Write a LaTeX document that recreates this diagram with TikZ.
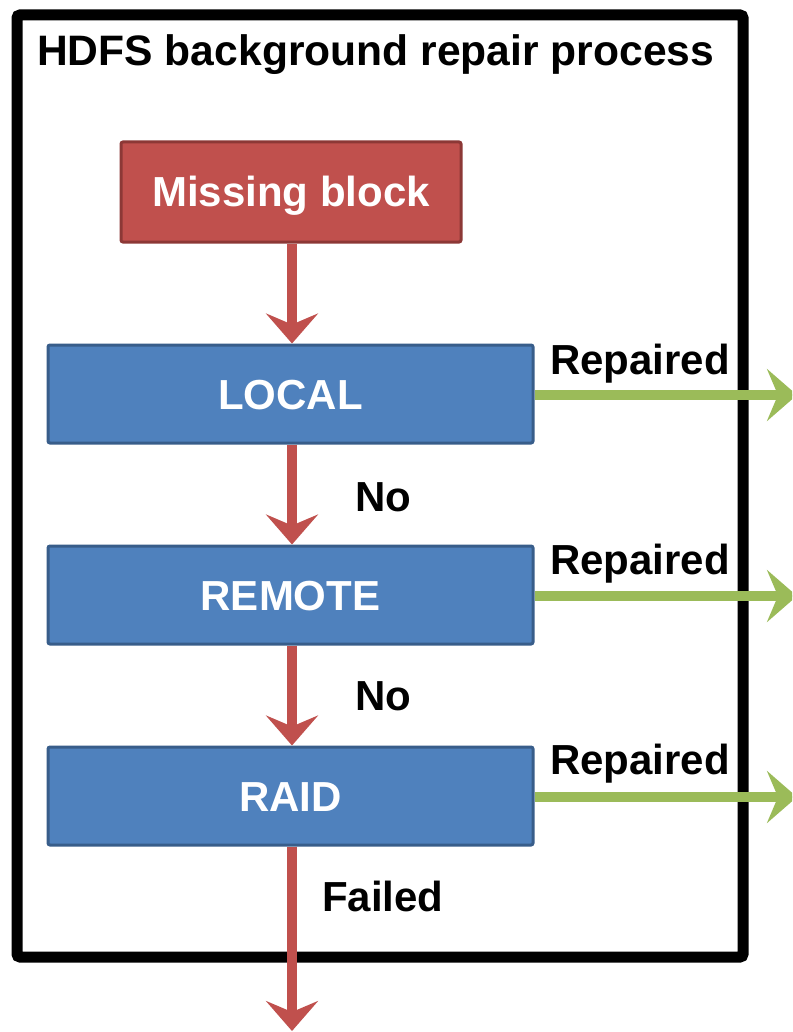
\documentclass[tikz,border=0pt]{standalone}
\usepackage{fontspec}
\setmainfont{Liberation Sans}
\usetikzlibrary{arrows.meta}
\definecolor{redfill}{HTML}{C0504D}
\definecolor{redborder}{HTML}{8C3836}
\definecolor{bluefill}{HTML}{4F81BD}
\definecolor{blueborder}{HTML}{385D8A}
\definecolor{greenarrow}{HTML}{9BBB59}
\tikzset{
  txt/.style={font=\fontsize{42}{50}\selectfont\bfseries, inner sep=0pt},
  boxtxt/.style={txt, text height=30pt, text depth=0pt, text=white},
  redbox/.style={boxtxt, draw=redborder, fill=redfill, line width=3pt, rounded corners=2pt, minimum width=340pt, minimum height=100pt},
  bluebox/.style={boxtxt, draw=blueborder, fill=bluefill, line width=3pt, rounded corners=2pt, minimum width=485pt, minimum height=98pt},
  redarrow/.style={draw=redfill, line width=10pt, -{Stealth[length=30pt,width=52pt,inset=11pt]}},
  greenarr/.style={draw=greenarrow, line width=10pt, -{Stealth[length=30pt,width=52pt,inset=11pt]}},
  lbl/.style={txt, text=black, anchor=west}
}
\begin{document}
\begin{tikzpicture}[x=1pt,y=-1pt]
\clip (0,0) rectangle (792,1032);
\fill[white] (0,0) rectangle (792,1032);
\draw[line width=11pt, rounded corners=3pt] (17,15) rectangle (743,957);
\node[txt, anchor=base west, font=\fontsize{42.6}{50}\selectfont\bfseries] (title) at (37,66) {HDFS background repair process};
\node[redbox] (missing) at (291,192) {Missing block};
\node[bluebox] (local) at (290.5,394) {LOCAL};
\node[bluebox] (remote) at (290.5,595) {REMOTE};
\node[bluebox] (raid) at (290.5,796) {RAID};
\coordinate (fail) at (292,1031);
\coordinate (out1) at (797,395);
\coordinate (out2) at (797,596);
\coordinate (out3) at (797,797);
\draw[redarrow] (missing.south -| 292,0) -- (local.north -| 292,0);
\draw[redarrow] (local.south -| 292,0) -- (remote.north -| 292,0);
\draw[redarrow] (remote.south -| 292,0) -- (raid.north -| 292,0);
\draw[redarrow] (raid.south -| 292,0) -- (fail);
\draw[greenarr] (local.east |- out1) -- (out1);
\draw[greenarr] (remote.east |- out2) -- (out2);
\draw[greenarr] (raid.east |- out3) -- (out3);
\node[lbl] (rep1) at (550,364) {Repaired};
\node[lbl] (rep2) at (550,564) {Repaired};
\node[lbl] (rep3) at (550,764) {Repaired};
\node[lbl] (no1) at (355,497) {No};
\node[lbl] (no2) at (355,696) {No};
\node[lbl] (failed) at (322,896) {Failed};
\end{tikzpicture}
\end{document}
